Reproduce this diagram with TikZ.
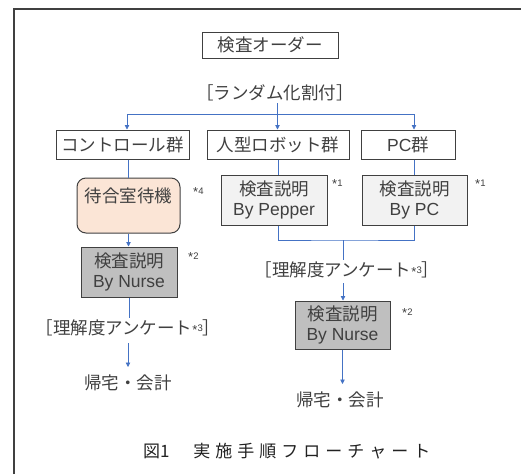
\documentclass[tikz,border=0pt]{standalone}
\usepackage{fontspec}
\setmainfont{Liberation Sans}
\newfontfamily\jp{Noto Sans CJK JP}
\usetikzlibrary{arrows.meta,calc}
\definecolor{blu}{HTML}{4472C4}
\definecolor{peach}{HTML}{FBE5D6}
\definecolor{lg}{HTML}{F2F2F2}
\definecolor{mg}{HTML}{BFBFBF}
\definecolor{dk}{HTML}{404040}
\definecolor{capc}{HTML}{222222}
\tikzset{
  x=1pt,y=-1pt,
  box/.style={draw=dk,line width=1pt,inner sep=0pt,align=center,text=dk,
    font=\fontsize{17.5}{20}\selectfont},
  lbl/.style={inner sep=0pt,outer sep=2pt,text height=14pt,text depth=2pt,text=dk,
    font=\fontsize{17.5}{20}\selectfont\jp},
  note/.style={inner sep=0pt,text=dk,font=\fontsize{13}{13}\selectfont},
  conn/.style={draw=blu,line width=0.8pt},
  arr/.style={conn,-{Triangle[width=4.5pt,length=4.5pt]}},
}
\newcommand{\sn}[1]{*\raisebox{2.5pt}{\fontsize{9.5}{10}\selectfont #1}}
\begin{document}
\begin{tikzpicture}
\useasboundingbox (0,0) rectangle (521,474);
% frame
\draw[dk,line width=2pt] (14,474) -- (14,9) -- (521,9);

% nodes
\node[box,minimum width=136pt,minimum height=26pt] (order) at (270,45) {\jp 検査オーダー};
\node[lbl] (rand) at (275,93) {［ランダム化割付］};
\node[box,minimum width=133pt,minimum height=29pt] (ctrl) at (122.5,144.5) {\jp コントロール群};
\node[box,minimum width=142pt,minimum height=29pt] (robot) at (278,144.5) {\jp 人型ロボット群};
\node[box,minimum width=94pt,minimum height=29pt] (pc) at (408,144.5) {PC{\jp 群}};

\node[box,fill=peach,rounded corners=9pt,minimum width=103pt,minimum height=55pt] (wait) at (128.5,205.5) {{\jp 待合室待機}\\\phantom{X}};
\node[note,anchor=west] (n4) at (193,192) {\sn{4}};

\node[box,fill=lg,minimum width=106pt,minimum height=50pt] (pepper) at (274,200) {{\jp 検査説明}\\By Pepper};
\node[note,anchor=west] (n1a) at (332,184) {\sn{1}};
\node[box,fill=lg,minimum width=105pt,minimum height=50pt] (pcx) at (414.5,200) {{\jp 検査説明}\\By PC};
\node[note,anchor=west] (n1b) at (475,184) {\sn{1}};

\node[box,fill=mg,minimum width=96pt,minimum height=50pt] (nurseL) at (129,272) {{\jp 検査説明}\\By Nurse};
\node[note,anchor=west] (n2a) at (188,257) {\sn{2}};

\node[lbl] (q1) at (128,328) {［理解度アンケート{\fontspec{Liberation Sans}\fontsize{13}{13}\selectfont\sn{3}}］};
\node[lbl] (home1) at (128,383) {帰宅・会計};

\coordinate (m) at (343,240);
\node[lbl] (q2) at (347,270) {［理解度アンケート{\fontspec{Liberation Sans}\fontsize{13}{13}\selectfont\sn{3}}］};
\node[box,fill=mg,minimum width=95pt,minimum height=48pt] (nurseR) at (342.5,325) {{\jp 検査説明}\\By Nurse};
\node[note,anchor=west] (n2b) at (402,313) {\sn{2}};
\node[lbl] (home2) at (340,400) {帰宅・会計};

\node[lbl,anchor=west,text=capc,font=\fontsize{17}{20}\selectfont\jp] (cap) at (141,451)
  {図1\hspace{24pt}実\kern5pt 施\kern5pt 手\kern5pt 順\kern5pt フ\kern5pt ロ\kern5pt ー\kern5pt チ\kern5pt ャ\kern5pt ー\kern5pt ト};

% connectors
\coordinate (j) at (277.5,114);
\draw[conn] (rand.south -| j) -- (j);
\draw[arr] (j) -| ([xshift=4.5pt]ctrl.north);
\draw[arr] (j) -- (robot.north -| j);
\draw[arr] (j) -| ([xshift=6pt]pc.north);

\draw[conn] (ctrl.south -| wait.north) -- (wait.north);
\draw[conn] (robot.south) -- (robot.south |- pepper.north);
\draw[conn] (pcx.north |- pc.south) -- (pcx.north);

\draw[arr] (wait.south) -- (nurseL.north -| wait.south);
\draw[conn] (nurseL.south) -- (q1.north -| nurseL.south);
\draw[arr,shorten <=5pt,shorten >=6pt] (q1.south) -- (home1.north);

\draw[conn] ([xshift=4pt]pepper.south) |- (m) -| (pcx.south);
\draw[conn] (m) -- (m |- q2.north);
\draw[arr,shorten <=3pt] (q2.south -| m) -- (m |- nurseR.north);
\draw[arr,shorten >=6pt] (nurseR.south) -- (home2.north -| nurseR.south);
\end{tikzpicture}
\end{document}
